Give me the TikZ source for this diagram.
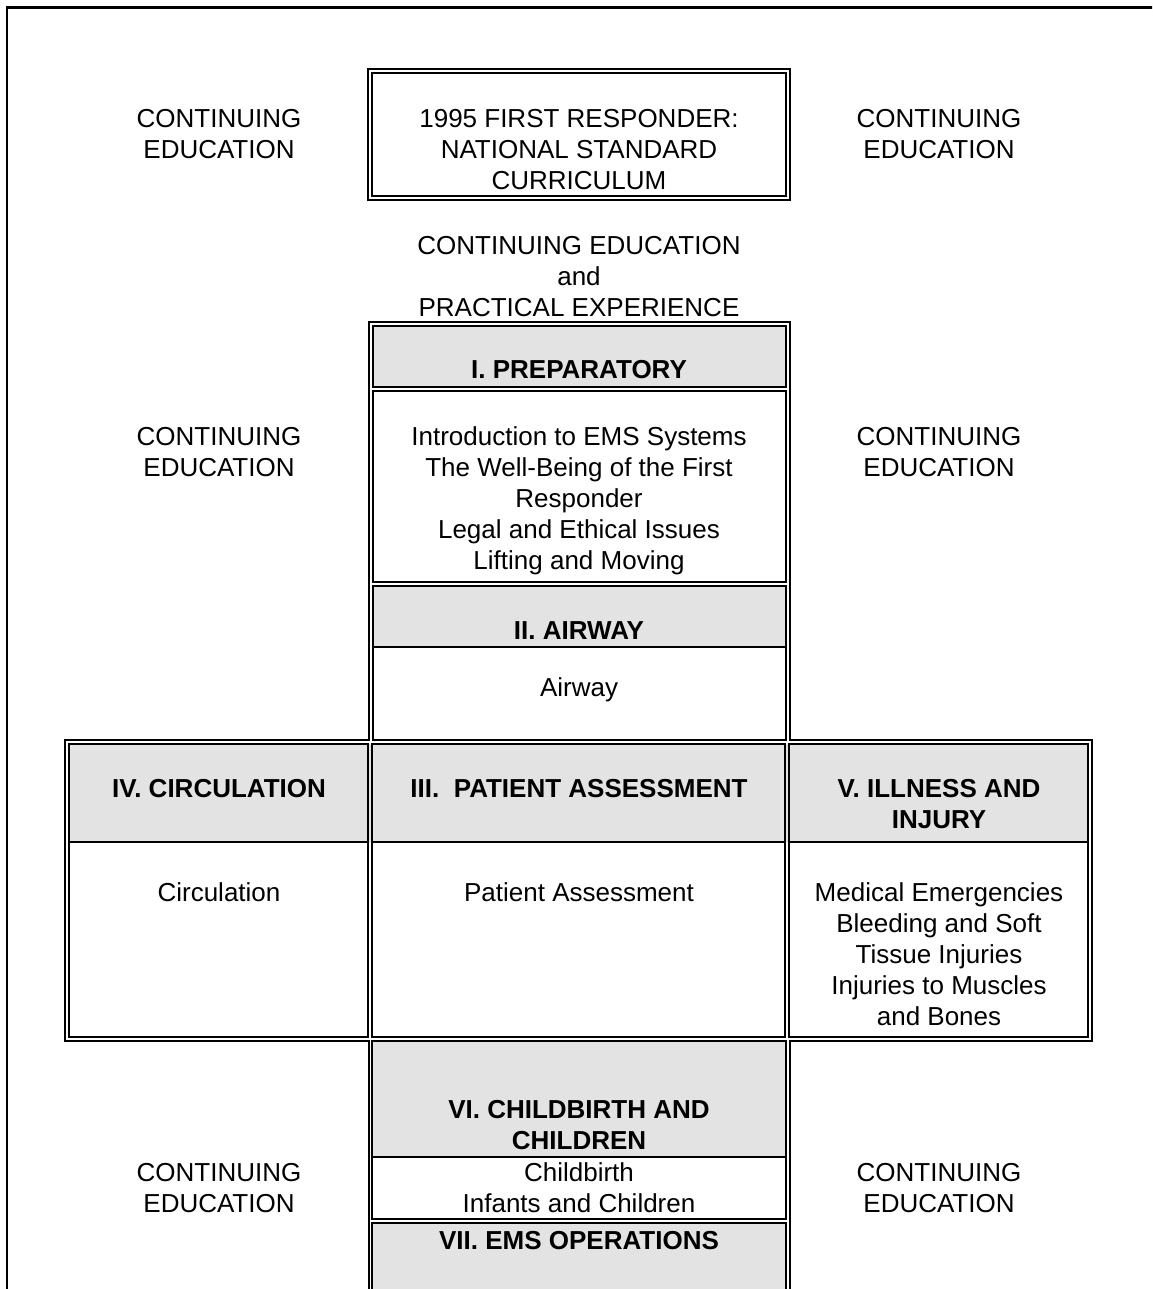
\documentclass[tikz,border=0pt]{standalone}
\usepackage{fontspec}
\setmainfont{Liberation Sans}
\definecolor{hdrgray}{RGB}{227,227,227}
\begin{document}
\begin{tikzpicture}[x=1pt,y=-1pt,
  cellline/.style={draw=black,line width=1.7pt},
  outerline/.style={draw=black,line width=1.8pt},
  frameline/.style={draw=black,line width=2.4pt},
  hdrfill/.style={fill=hdrgray},
  txt/.style={align=center,inner sep=0pt,font=\fontsize{26}{31}\selectfont},
  hdr/.style={align=center,inner sep=0pt,font=\fontsize{26}{31}\selectfont\bfseries}]
\useasboundingbox (0,0) rectangle (1152,1289);
\clip (0,0) rectangle (1152,1289);

% page frame
\draw[frameline] (7,1295) -- (7,7.5) -- (1160,7.5);

% title box
\draw[outerline] (368,69) rectangle (790,200);
\draw[cellline] (372,73) rectangle (786,196);

% gray fills
\fill[hdrfill] (373,326) rectangle (786,387);
\fill[hdrfill] (373,586) rectangle (786,647);
\fill[hdrfill] (69,744) rectangle (1088,842);
\fill[hdrfill] (372,1041) rectangle (786,1157);
\fill[hdrfill] (372,1223) rectangle (786,1295);

% outer boundary of the cross-shaped table
\draw[outerline] (369,1295) -- (369,1041) -- (65,1041) -- (65,740) -- (369,740) -- (369,322)
  -- (790,322) -- (790,740) -- (1092,740) -- (1092,1041) -- (790,1041) -- (790,1295);

% upper column cells
\draw[cellline] (373,326) rectangle (786,387);
\draw[cellline] (373,391) rectangle (786,582);
\draw[cellline] (373,586) rectangle (786,740);
\draw[cellline] (373,647) -- (786,647);

% row cells
\draw[cellline] (69,744) rectangle (368,1037);
\draw[cellline] (372,744) rectangle (785,1037);
\draw[cellline] (789,744) rectangle (1088,1037);
\draw[cellline] (69,842) -- (368,842);
\draw[cellline] (372,842) -- (785,842);
\draw[cellline] (789,842) -- (1088,842);

% lower column cells
\draw[cellline] (372,1041) rectangle (786,1219);
\draw[cellline] (372,1157) -- (786,1157);
\draw[cellline] (372,1295) -- (372,1223) -- (786,1223) -- (786,1295);

% texts
\node[txt] (ceTL) at (219,134) {CONTINUING\\EDUCATION};
\node[txt] (ceTR) at (939,134) {CONTINUING\\EDUCATION};
\node[txt] (title) at (579,150) {1995 FIRST RESPONDER:\\NATIONAL STANDARD\\CURRICULUM};
\node[txt] (cepe) at (579,277) {CONTINUING EDUCATION\\and\\PRACTICAL EXPERIENCE};
\node[hdr] (prep) at (579,370) {I. PREPARATORY};
\node[txt] (ceML) at (219,452) {CONTINUING\\EDUCATION};
\node[txt] (ceMR) at (939,452) {CONTINUING\\EDUCATION};
\node[txt] (prepc) at (579,500.5) {Introduction to EMS Systems\\The Well-Being of the First\\Responder\\Legal and Ethical Issues\\Lifting and Moving};
\node[hdr] (airh) at (579,631) {II. AIRWAY};
\node[txt] (airc) at (579,689.5) {Airway};
\node[hdr] (circh) at (219,789) {IV. CIRCULATION};
\node[hdr] (pah) at (579,789) {III.\ \ PATIENT ASSESSMENT};
\node[hdr] (illh) at (939,804.5) {V. ILLNESS AND\\INJURY};
\node[txt] (circc) at (219,892) {Circulation};
\node[txt] (pac) at (579,892) {Patient Assessment};
\node[txt] (illc) at (939,954) {Medical Emergencies\\Bleeding and Soft\\Tissue Injuries\\Injuries to Muscles\\and Bones};
\node[hdr] (cbh) at (579,1125.5) {VI. CHILDBIRTH AND\\CHILDREN};
\node[txt] (cbc) at (579,1188) {Childbirth\\Infants and Children};
\node[txt] (ceBL) at (219,1188) {CONTINUING\\EDUCATION};
\node[txt] (ceBR) at (939,1188) {CONTINUING\\EDUCATION};
\node[hdr] (emsh) at (579,1241) {VII. EMS OPERATIONS};
\end{tikzpicture}
\end{document}
